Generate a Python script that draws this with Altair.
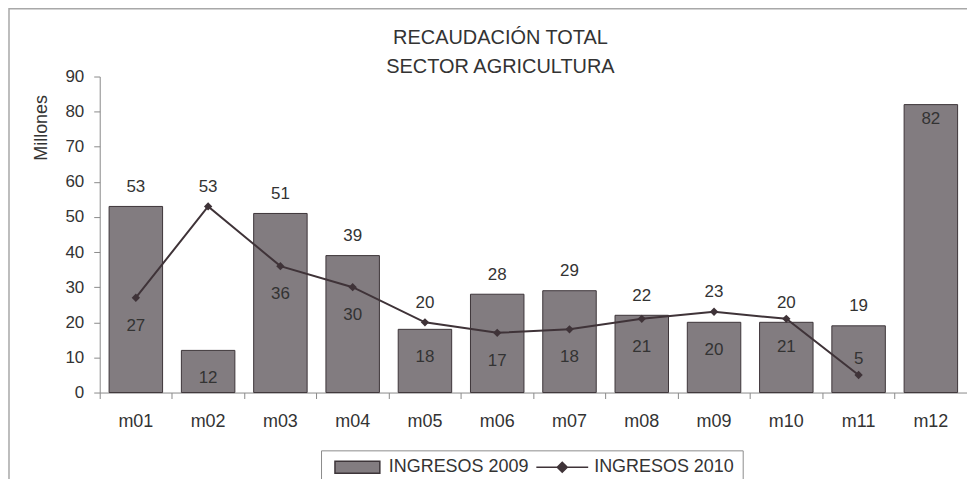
import altair as alt
import pandas as pd

# ---- data ----
months = ["m01", "m02", "m03", "m04", "m05", "m06", "m07", "m08", "m09", "m10", "m11", "m12"]
ingresos_2009 = [53, 12, 51, 39, 18, 28, 29, 22, 20, 20, 19, 82]
ingresos_2010 = [27, 53, 36, 30, 20, 17, 18, 21, 23, 21, 5, None]
series = ["INGRESOS 2009", "INGRESOS 2010"]
title_lines = ["RECAUDACIÓN TOTAL", "SECTOR AGRICULTURA"]
y_ticks = [0, 10, 20, 30, 40, 50, 60, 70, 80, 90]

FONT = "Liberation Sans"
TXT = "#333333"
AXC = "#8a8a8a"
BAR_FILL = "#827c80"
BAR_STROKE = "#3d3539"
LINE_C = "#3f3338"

df = pd.DataFrame({"mes": months, "v2009": ingresos_2009, "v2010": ingresos_2010})

x_scale = alt.Scale(domain=months, paddingInner=0, paddingOuter=0)
y_scale = alt.Scale(domain=[0, 90], nice=False)

y_axis = alt.Axis(values=y_ticks, title="Millones", grid=False, domainColor=AXC,
                  tickColor=AXC, tickSize=6, labelFontSize=17, labelFont=FONT,
                  labelColor=TXT, labelPadding=10, titleFontSize=18, titleFont=FONT,
                  titleFontWeight="normal", titleColor=TXT, titleAngle=270,
                  titleAlign="center", titleBaseline="middle", titleX=-58, titleY=51)

base = alt.Chart(df)

bars = base.mark_bar(
    width=alt.RelativeBandSize(0.74), fill=BAR_FILL, stroke=BAR_STROKE, strokeWidth=1
).encode(
    x=alt.X("mes:N", sort=months, scale=x_scale,
            axis=alt.Axis(title=None, orient="bottom", ticks=False, domain=False, labelFontSize=18,
                          labelFont=FONT, labelColor=TXT, labelPadding=20, labelAngle=0)),
    y=alt.Y("v2009:Q", scale=y_scale, axis=y_axis),
)

line = base.mark_line(color=LINE_C, strokeWidth=2).encode(
    x=alt.X("mes:N", sort=months, scale=x_scale,
            axis=alt.Axis(title=None, orient="bottom", labels=False, bandPosition=0, ticks=True,
                          tickSize=6, tickColor=AXC, domain=True, domainColor=AXC)),
    y=alt.Y("v2010:Q", scale=y_scale, axis=y_axis),
)

points = base.mark_point(shape="diamond", filled=True, size=70, color=LINE_C, opacity=1).encode(
    x=alt.X("mes:N", sort=months, scale=x_scale, axis=None),
    y=alt.Y("v2010:Q", scale=y_scale, axis=y_axis),
)

labeled = base.transform_calculate(
    up_line="isValid(datum.v2010) && datum.v2010 > datum.v2009 + 1",
).transform_calculate(
    up_val="datum.up_line ? datum.v2010 : datum.v2009",
    low_val="isValid(datum.v2010) ? (datum.up_line ? datum.v2009 : datum.v2010) : null",
).transform_calculate(
    up_pos="isValid(datum.v2010) ? datum.up_val + 5.5 : datum.up_val - 4",
    low_pos="datum.low_val >= 10 ? datum.low_val - 8 : datum.low_val + 4.5",
)

up_text = labeled.mark_text(fontSize=17, font=FONT, color=TXT, baseline="middle").encode(
    x=alt.X("mes:N", sort=months, scale=x_scale, axis=None),
    y=alt.Y("up_pos:Q", scale=y_scale, axis=y_axis),
    text=alt.Text("up_val:Q", format=".0f"),
)

low_text = labeled.transform_filter("isValid(datum.low_val)").mark_text(
    fontSize=17, font=FONT, color=TXT, baseline="middle").encode(
    x=alt.X("mes:N", sort=months, scale=x_scale, axis=None),
    y=alt.Y("low_pos:Q", scale=y_scale, axis=y_axis),
    text=alt.Text("low_val:Q", format=".0f"),
)

# legend built from the two series names
sym_2009 = "M-0.43,-0.857H6V0.857H-0.43Z"
sym_2010 = "M-1,0H6.43M2.71,-0.71L3.43,0L2.71,0.71L2,0Z"
leg = alt.Legend(orient="none", legendX=222, legendY=375, direction="horizontal", title=None,
                 labelFontSize=18, labelFont=FONT, labelColor=TXT, symbolSize=196,
                 symbolStrokeWidth=1.5, symbolOpacity=1, labelOffset=42,
                 columnPadding=4, padding=8, strokeColor="#8c8c8c", fillColor="white")
legend_layer = alt.Chart(pd.DataFrame({"serie": series})).transform_filter("false").mark_point(
    filled=True, opacity=1, strokeWidth=1.5).encode(
    fill=alt.Fill("serie:N", scale=alt.Scale(domain=series, range=[BAR_FILL, LINE_C]), legend=leg),
    stroke=alt.Stroke("serie:N", scale=alt.Scale(domain=series, range=[BAR_STROKE, LINE_C]), legend=leg),
    shape=alt.Shape("serie:N", scale=alt.Scale(domain=series, range=[sym_2009, sym_2010]), legend=leg),
)

frame = alt.Chart(pd.DataFrame({"k": [0]})).mark_rect(fill=None, stroke="#a8a8a8", strokeWidth=1.5).encode(
    x=alt.value(-91), x2=alt.value(900), y=alt.value(-68), y2=alt.value(430)
)

chart = alt.layer(frame, bars, line, points, up_text, low_text, legend_layer).resolve_axis(
    x="independent"
).properties(
    width=870,
    height=317,
    padding={"left": 92, "top": 68, "right": 0, "bottom": 86},
    autosize=alt.AutoSizeParams(type="none"),
    title=alt.TitleParams(text=title_lines, fontSize=20, font=FONT, fontWeight="normal",
                          color=TXT, anchor="middle", dx=-33, dy=93, lineHeight=29, offset=4,
                          baseline="bottom"),
).configure_view(stroke=None)

chart.save("out.html", embed_options={"renderer": "svg", "actions": False})
